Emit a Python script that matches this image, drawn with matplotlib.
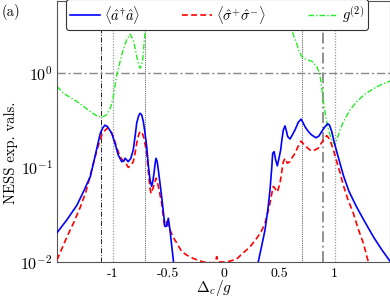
import numpy as np
import matplotlib
matplotlib.use("Agg")
import matplotlib.pyplot as plt

plt.rcParams["mathtext.fontset"] = "cm"
plt.rcParams["font.family"] = ["cmr10", "DejaVu Serif"]
plt.rcParams["axes.unicode_minus"] = False

# ── Data ──────────────────────────────────────────────────────────────────────

photon_x = [-1.5, -1.41, -1.32, -1.26, -1.20, -1.158, -1.11, -1.085, -1.068, -1.045,
            -1.007, -0.975, -0.948, -0.917, -0.897, -0.887, -0.872, -0.858, -0.835,
            -0.813, -0.795, -0.782, -0.765, -0.752, -0.737, -0.722, -0.707, -0.692,
            -0.677, -0.662, -0.647, -0.636, -0.626, -0.616, -0.608, -0.597, -0.587,
            -0.572, -0.557, -0.542, -0.527, -0.512, -0.497, -0.482, -0.467, -0.452,
            -0.44, 0.30, 0.313, 0.345, 0.374, 0.40, 0.419, 0.435, 0.443, 0.456, 0.47,
            0.485, 0.50, 0.515, 0.527, 0.539, 0.554, 0.566, 0.578, 0.599, 0.62, 0.644,
            0.66, 0.674, 0.698, 0.715, 0.734, 0.764, 0.795, 0.833, 0.86, 0.885, 0.91,
            0.939, 0.955, 0.975, 0.995, 1.02, 1.05, 1.079, 1.13, 1.2, 1.27, 1.35,
            1.42, 1.5]
photon_y = [0.0204, 0.028, 0.040, 0.056, 0.080, 0.13, 0.23, 0.265, 0.28, 0.27,
            0.23, 0.175, 0.135, 0.115, 0.117, 0.125, 0.12, 0.115, 0.125,
            0.153, 0.22, 0.294, 0.35, 0.374, 0.36, 0.305, 0.23, 0.166,
            0.105, 0.074, 0.063, 0.072, 0.087, 0.11, 0.125, 0.115, 0.094,
            0.068, 0.049, 0.034, 0.0237, 0.024, 0.029, 0.0218, 0.015, 0.0105,
            0.007, 0.008, 0.01, 0.015, 0.0218, 0.036, 0.058, 0.1, 0.141, 0.147, 0.12,
            0.104, 0.125, 0.153, 0.2, 0.249, 0.275, 0.245, 0.212, 0.2, 0.22, 0.249,
            0.275, 0.30, 0.324, 0.30, 0.27, 0.24, 0.22, 0.206, 0.215, 0.24, 0.265,
            0.29, 0.28, 0.24, 0.19, 0.147, 0.11, 0.083, 0.056, 0.038, 0.027, 0.0185,
            0.0138, 0.0102]

atom_x = [-1.5, -1.41, -1.35, -1.29, -1.24, -1.20, -1.14, -1.097, -1.07, -1.047,
          -1.02, -0.993, -0.96, -0.932, -0.91, -0.887, -0.858, -0.835, -0.813,
          -0.795, -0.782, -0.765, -0.752, -0.735, -0.716, -0.692, -0.677, -0.662,
          -0.653, -0.64, -0.626, -0.608, -0.595, -0.581, -0.557, -0.533, -0.512,
          -0.497, -0.482, -0.45, -0.42, -0.377, -0.33, -0.272, -0.182, -0.106,
          -0.075, -0.061, -0.047, 0.029, 0.08, 0.12, 0.178, 0.24, 0.299, 0.34,
          0.374, 0.40, 0.419, 0.435, 0.449, 0.464, 0.485, 0.509, 0.525, 0.539,
          0.554, 0.575, 0.599, 0.62, 0.644, 0.67, 0.698, 0.734, 0.779, 0.809,
          0.854, 0.899, 0.93, 0.955, 0.975, 1.0, 1.02, 1.05, 1.079, 1.12, 1.169,
          1.21, 1.26, 1.305, 1.33]
atom_y = [0.0105, 0.0185, 0.026, 0.038, 0.055, 0.083, 0.153, 0.22, 0.245, 0.26,
          0.245, 0.212, 0.16, 0.13, 0.12, 0.115, 0.1, 0.105, 0.115,
          0.145, 0.18, 0.22, 0.24, 0.235, 0.204, 0.141, 0.09, 0.060,
          0.053, 0.058, 0.065, 0.077, 0.07, 0.058, 0.042, 0.0246, 0.0267,
          0.024, 0.0218, 0.018, 0.0158, 0.0129, 0.0118, 0.0109, 0.0100, 0.0098,
          0.0099, 0.0114, 0.0100, 0.0100, 0.0104, 0.0108, 0.0125, 0.0145, 0.0178, 0.021,
          0.0257, 0.034, 0.042, 0.053, 0.063, 0.060, 0.055, 0.068, 0.09, 0.115,
          0.125, 0.111, 0.115, 0.128, 0.141, 0.165, 0.19, 0.17, 0.153, 0.15,
          0.16, 0.195, 0.217, 0.2, 0.173, 0.14, 0.115, 0.088, 0.065, 0.046, 0.033,
          0.023, 0.0158, 0.01, 0.0085]

g2_x = [-1.5, -1.443, -1.38, -1.32, -1.26, -1.20, -1.14, -1.097, -1.052, -1.014,
        -0.993, -0.962, -0.94, -0.917, -0.895, -0.872, -0.842, -0.813, -0.795,
        -0.782, -0.765, -0.752, -0.74, -0.728, -0.713, -0.701, -0.69,
        0.0,
        0.60, 0.614, 0.635, 0.659, 0.68, 0.705, 0.75, 0.795, 0.84, 0.869, 0.885,
        0.90, 0.915, 0.935, 0.96, 0.985, 1.005, 1.02, 1.05, 1.08, 1.14, 1.2, 1.27,
        1.35, 1.42, 1.5]
g2_y = [0.72, 0.61, 0.55, 0.497, 0.44, 0.39, 0.35, 0.34, 0.36, 0.44,
        0.56, 0.95, 1.2, 1.55, 1.9, 2.23, 2.57, 2.23, 1.8,
        1.49, 1.25, 1.12, 1.18, 1.37, 2.23, 3.1, 6.5,
        np.nan,
        6.5, 2.97, 2.4, 2.06, 1.7, 1.49, 1.37, 1.33, 1.17, 0.95, 0.7,
        0.5, 0.38, 0.28, 0.22, 0.185, 0.173, 0.195, 0.25, 0.305, 0.405, 0.497, 0.59,
        0.68, 0.75, 0.82]

# reference detunings marked by vertical lines
marker_x = [-1.1, -1.0, -0.71, 0.71, 0.9, 1.0]
xticks = [-1, -0.5, 0, 0.5, 1]
xticklabels = ["-1", "-0.5", "0", "0.5", "1"]
yticks = [1e-2, 1e-1, 1e0]
yticklabels = [r"$10^{-2}$", r"$10^{-1}$", r"$10^{0}$"]

# ── Figure ────────────────────────────────────────────────────────────────────

fig = plt.figure(figsize=(3.9, 2.97), dpi=100)
ax = fig.add_axes([57 / 390, 35 / 297, 333 / 390, 261 / 297])

marker_styles = [
    dict(color="black", ls=(0, (6, 2, 1, 2)), lw=0.6),
    dict(color="#999999", ls=(0, (1, 1.2)), lw=0.9),
    dict(color="#333333", ls=(0, (1, 1.2)), lw=0.6),
    dict(color="#333333", ls=(0, (1, 1.2)), lw=0.6),
    dict(color="#888888", ls=(0, (6, 2, 1, 2)), lw=1.3),
    dict(color="#999999", ls=(0, (1, 1.2)), lw=0.9),
]
for xv, st in zip(marker_x, marker_styles):
    ax.axvline(xv, zorder=1, **st)
ax.axhline(1.0, color="#888888", ls=(0, (6, 2, 1.5, 2)), lw=1.0, zorder=1)

ax.plot(photon_x, photon_y, color="blue", lw=1.2, zorder=4,
        label=r"$\langle\hat{a}^{\dagger}\hat{a}\rangle$")
ax.plot(atom_x, atom_y, color="red", lw=1.2, ls=(0, (3.5, 2)), zorder=3,
        label=r"$\langle\hat{\sigma}^{+}\hat{\sigma}^{-}\rangle$")
ax.plot(g2_x, g2_y, color="#22ee22", lw=1.0, ls=(0, (4, 1.5, 1, 1.5)), zorder=2,
        label=r"$g^{(2)}$")

ax.set_yscale("log")
ax.set_xlim(-1.5, 1.5)
ax.set_ylim(1e-2, 10 ** 0.76)
ax.set_xticks(xticks)
ax.set_xticklabels(xticklabels)
ax.set_yticks(yticks)
ax.set_yticklabels(yticklabels)
ax.minorticks_off()
ax.tick_params(length=0, labelsize=10, pad=4)
ax.tick_params(axis="y", labelsize=11.5, pad=3)
for side in ["left", "bottom", "right", "top"]:
    ax.spines[side].set_color("#555555")
    ax.spines[side].set_linewidth(0.8)

ax.set_xlabel(r"$\Delta_c/g$", fontsize=11)
ax.xaxis.set_label_coords(0.47, -0.062)
ax.set_ylabel("NESS exp. vals.", fontsize=10.5)
ax.yaxis.set_label_coords(-0.118, 0.42)

leg = ax.legend(loc="upper left", bbox_to_anchor=(0.027, 0.997, 0.907, 0.01),
                mode="expand", ncol=3, fontsize=10.5, frameon=True, fancybox=True,
                handlelength=2.0, handletextpad=0.3, borderpad=0.3,
                borderaxespad=0.0)
leg.get_frame().set_edgecolor("#333333")
leg.get_frame().set_linewidth(0.8)
leg.get_frame().set_alpha(1.0)

fig.text(2 / 390, 1 - 12 / 297, "(a)", fontsize=10.5, va="center", ha="left")

fig.savefig("out.png", dpi=100)
